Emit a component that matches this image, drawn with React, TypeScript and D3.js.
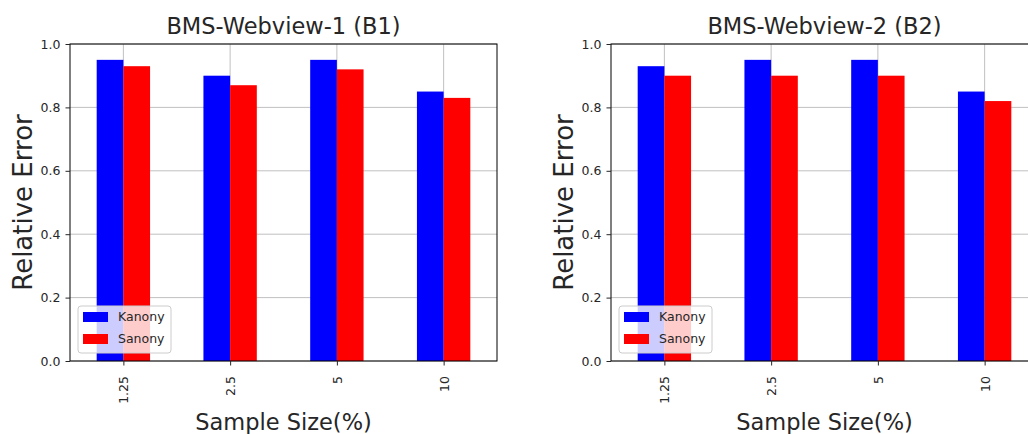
import { useEffect, useRef } from 'react';
import * as d3 from 'd3';

const sampleSizes = ['1.25', '2.5', '5', '10'];
const seriesNames = ['Kanony', 'Sanony'];
const seriesColors = ['#0000ff', '#ff0000'];
const yTicks = [0, 0.2, 0.4, 0.6, 0.8, 1.0];

const b1Kanony = [0.95, 0.9, 0.95, 0.85];
const b1Sanony = [0.93, 0.87, 0.92, 0.83];
const b2Kanony = [0.93, 0.95, 0.95, 0.85];
const b2Sanony = [0.9, 0.9, 0.9, 0.82];

const panels = [
    { title: 'BMS-Webview-1 (B1)', left: 70, series: [b1Kanony, b1Sanony] },
    { title: 'BMS-Webview-2 (B2)', left: 611, series: [b2Kanony, b2Sanony] },
];

const W = 1028;
const H = 434;
const axW = 427;
const top = 44;
const bottom = 361;
const font = 'DejaVu Sans, sans-serif';
const textColor = '#262626';

const App = () => {
    const svgRef = useRef<SVGSVGElement>(null);

    useEffect(() => {
        const svg = d3.select(svgRef.current);
        svg.selectAll('*').remove();

        panels.forEach(p => {
            const g = svg.append('g').attr('transform', `translate(${p.left},0)`);

            // pandas-style: categories at 0..n-1, limits -0.5..n-0.5
            const x = d3.scaleLinear().domain([-0.5, sampleSizes.length - 0.5]).range([0, axW]);
            const y = d3.scaleLinear().domain([0, 1]).range([bottom, top]);
            const barW = 0.25;

            // grid
            g.append('g').selectAll('line').data(yTicks).join('line')
                .attr('x1', 0).attr('x2', axW)
                .attr('y1', d => y(d)).attr('y2', d => y(d))
                .attr('stroke', '#b0b0b0').attr('stroke-width', 0.8);
            g.append('g').selectAll('line').data(sampleSizes).join('line')
                .attr('x1', (d, i) => x(i)).attr('x2', (d, i) => x(i))
                .attr('y1', top).attr('y2', bottom)
                .attr('stroke', '#b0b0b0').attr('stroke-width', 0.8);

            // bars
            p.series.forEach((vals, s) => {
                g.append('g').selectAll('rect').data(vals).join('rect')
                    .attr('x', (d, i) => x(i - barW + s * barW))
                    .attr('width', x(barW) - x(0))
                    .attr('y', d => y(d))
                    .attr('height', d => y(0) - y(d))
                    .attr('fill', seriesColors[s]);
            });

            // frame
            g.append('rect')
                .attr('x', 0).attr('y', top).attr('width', axW).attr('height', bottom - top)
                .attr('fill', 'none').attr('stroke', '#000').attr('stroke-width', 1);

            // y axis
            const yAxis = g.append('g').call(
                d3.axisLeft(y).tickValues(yTicks).tickFormat(d3.format('.1f')).tickSize(4.5).tickPadding(5)
            );
            yAxis.select('.domain').remove();
            yAxis.selectAll('text').attr('font-family', font).attr('font-size', 12.5).attr('fill', textColor);
            yAxis.selectAll('line').attr('stroke', textColor);

            // x axis
            const xAxis = g.append('g').attr('transform', `translate(0,${bottom})`).call(
                d3.axisBottom(x).tickValues(d3.range(sampleSizes.length)).tickFormat((d: any) => sampleSizes[d]).tickSize(4.5)
            );
            xAxis.select('.domain').remove();
            xAxis.selectAll('line').attr('stroke', textColor);
            xAxis.selectAll('text')
                .attr('font-family', font).attr('font-size', 12.5).attr('fill', textColor)
                .attr('transform', 'rotate(-90)')
                .attr('x', -15).attr('y', 0).attr('dy', '0.35em')
                .attr('text-anchor', 'end');

            // title + labels
            g.append('text')
                .attr('x', axW / 2).attr('y', 34)
                .attr('text-anchor', 'middle')
                .attr('font-family', font).attr('font-size', 22.5).attr('fill', textColor)
                .text(p.title);
            g.append('text')
                .attr('x', axW / 2).attr('y', 430)
                .attr('text-anchor', 'middle')
                .attr('font-family', font).attr('font-size', 22.5).attr('fill', textColor)
                .text('Sample Size(%)');
            g.append('text')
                .attr('transform', `translate(-38,${(top + bottom) / 2 + 0}) rotate(-90)`)
                .attr('text-anchor', 'middle')
                .attr('font-family', font).attr('font-size', 26).attr('fill', textColor)
                .text('Relative Error');

            // legend
            const lg = g.append('g').attr('transform', 'translate(8,306)');
            lg.append('rect')
                .attr('width', 93).attr('height', 47).attr('rx', 3)
                .attr('fill', 'white').attr('fill-opacity', 0.8)
                .attr('stroke', '#cccccc').attr('stroke-width', 1);
            seriesNames.forEach((name, i) => {
                lg.append('rect')
                    .attr('x', 5).attr('y', 6 + i * 22).attr('width', 25).attr('height', 10)
                    .attr('fill', seriesColors[i]);
                lg.append('text')
                    .attr('x', 40).attr('y', 11 + i * 22).attr('dy', '0.35em')
                    .attr('font-family', font).attr('font-size', 12.5).attr('fill', textColor)
                    .text(name);
            });
        });
    }, []);

    return (
        <svg ref={svgRef} width={W} height={H}
            style={{ position: 'absolute', left: 0, top: 0, background: 'white' }} />
    );
};

export default App;
